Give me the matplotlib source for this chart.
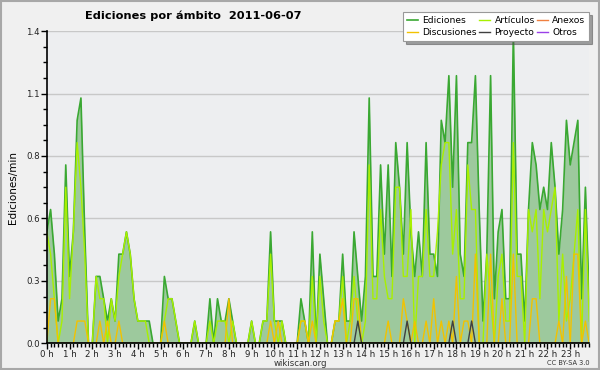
import numpy as np
import matplotlib
matplotlib.use("Agg")
import matplotlib.pyplot as plt
from matplotlib.ticker import FixedLocator, MultipleLocator

# ======== Data (edits/min, 10-minute bins, 2011-06-07) ========

ediciones = [
    0.5, 0.6, 0.4, 0.1, 0.2, 0.8, 0.3, 0.5, 1.0, 1.1, 0.5, 0.0,
    0.0, 0.3, 0.3, 0.2, 0.1, 0.2, 0.1, 0.4, 0.4, 0.5, 0.4, 0.2,
    0.1, 0.1, 0.1, 0.1, 0.0, 0.0, 0.0, 0.3, 0.2, 0.2, 0.1, 0.0,
    0.0, 0.0, 0.0, 0.1, 0.0, 0.0, 0.0, 0.2, 0.0, 0.2, 0.1, 0.1,
    0.2, 0.1, 0.0, 0.0, 0.0, 0.0, 0.1, 0.0, 0.0, 0.1, 0.1, 0.5,
    0.1, 0.1, 0.1, 0.0, 0.0, 0.0, 0.0, 0.2, 0.1, 0.0, 0.5, 0.0,
    0.4, 0.2, 0.0, 0.0, 0.1, 0.1, 0.4, 0.1, 0.1, 0.5, 0.3, 0.1,
    0.3, 1.1, 0.3, 0.3, 0.8, 0.4, 0.8, 0.3, 0.9, 0.7, 0.4, 0.9,
    0.5, 0.3, 0.5, 0.3, 0.9, 0.4, 0.4, 0.3, 1.0, 0.9, 1.2, 0.7,
    1.2, 0.4, 0.3, 0.9, 0.9, 1.2, 0.6, 0.1, 0.4, 1.2, 0.2, 0.5,
    0.6, 0.2, 0.2, 1.4, 0.4, 0.4, 0.1, 0.6, 0.9, 0.8, 0.6, 0.7,
    0.6, 0.9, 0.7, 0.4, 0.6, 1.0, 0.8, 0.9, 1.0, 0.2, 0.7, 0.2,
]

articulos = [
    0.5, 0.4, 0.2, 0.0, 0.1, 0.7, 0.2, 0.5, 0.9, 0.7, 0.4, 0.0,
    0.0, 0.3, 0.2, 0.2, 0.0, 0.2, 0.1, 0.3, 0.4, 0.5, 0.4, 0.2,
    0.1, 0.1, 0.1, 0.0, 0.0, 0.0, 0.0, 0.1, 0.2, 0.2, 0.1, 0.0,
    0.0, 0.0, 0.0, 0.1, 0.0, 0.0, 0.0, 0.1, 0.0, 0.1, 0.1, 0.1,
    0.0, 0.1, 0.0, 0.0, 0.0, 0.0, 0.1, 0.0, 0.0, 0.1, 0.1, 0.4,
    0.1, 0.0, 0.1, 0.0, 0.0, 0.0, 0.0, 0.1, 0.1, 0.0, 0.3, 0.0,
    0.3, 0.1, 0.0, 0.0, 0.1, 0.1, 0.3, 0.0, 0.1, 0.3, 0.1, 0.0,
    0.1, 0.8, 0.2, 0.2, 0.6, 0.3, 0.2, 0.2, 0.7, 0.7, 0.3, 0.3,
    0.6, 0.0, 0.3, 0.3, 0.6, 0.3, 0.3, 0.5, 0.8, 0.9, 0.9, 0.4,
    0.6, 0.2, 0.2, 0.8, 0.6, 0.6, 0.0, 0.0, 0.4, 0.2, 0.0, 0.3,
    0.4, 0.1, 0.1, 0.9, 0.3, 0.3, 0.0, 0.6, 0.5, 0.6, 0.2, 0.6,
    0.5, 0.6, 0.7, 0.1, 0.4, 0.1, 0.2, 0.4, 0.6, 0.0, 0.6, 0.1,
]

discusiones = [
    0.0, 0.2, 0.2, 0.0, 0.0, 0.0, 0.0, 0.0, 0.1, 0.1, 0.1, 0.0,
    0.0, 0.0, 0.1, 0.0, 0.1, 0.0, 0.0, 0.1, 0.0, 0.0, 0.0, 0.0,
    0.0, 0.0, 0.0, 0.0, 0.0, 0.0, 0.0, 0.1, 0.0, 0.0, 0.0, 0.0,
    0.0, 0.0, 0.0, 0.0, 0.0, 0.0, 0.0, 0.0, 0.0, 0.0, 0.0, 0.0,
    0.2, 0.0, 0.0, 0.0, 0.0, 0.0, 0.0, 0.0, 0.0, 0.0, 0.0, 0.1,
    0.0, 0.1, 0.0, 0.0, 0.0, 0.0, 0.0, 0.1, 0.1, 0.0, 0.1, 0.0,
    0.0, 0.0, 0.0, 0.0, 0.1, 0.1, 0.2, 0.0, 0.0, 0.2, 0.2, 0.0,
    0.0, 0.0, 0.0, 0.0, 0.0, 0.0, 0.1, 0.0, 0.0, 0.0, 0.2, 0.1,
    0.0, 0.1, 0.0, 0.0, 0.1, 0.0, 0.2, 0.0, 0.1, 0.0, 0.1, 0.0,
    0.3, 0.0, 0.1, 0.1, 0.0, 0.4, 0.0, 0.0, 0.0, 0.4, 0.0, 0.0,
    0.2, 0.0, 0.0, 0.4, 0.0, 0.0, 0.0, 0.0, 0.2, 0.2, 0.0, 0.0,
    0.0, 0.0, 0.0, 0.1, 0.0, 0.3, 0.0, 0.4, 0.4, 0.0, 0.1, 0.0,
]

proyecto = [0.0] * 144
for k in (82, 95, 107, 112):
    proyecto[k] = 0.1

anexos = [0.0] * 144
otros = [0.0] * 144

hour_labels = [f"{h} h" for h in range(24)]

# ======== Plot ========

fig = plt.figure(figsize=(6.0, 3.7), dpi=100, facecolor="#F0F0F0")
fig.patches.append(plt.Rectangle((0.002, 0.003), 0.996, 0.994, transform=fig.transFigure,
                                 fill=False, edgecolor="#A8A8A8", linewidth=1.5))
ax = fig.add_axes([0.078, 0.072, 0.904, 0.844])
ax.set_facecolor("#EDEEF0")

x = np.arange(len(ediciones)) / 6.0

ax.fill_between(x, 0, ediciones, color="#9DC99D", zorder=2, linewidth=0)
ax.plot(x, otros, color="#9A40E8", linewidth=1.0, zorder=2.5)
ax.plot(x, anexos, color="#F08040", linewidth=1.0, zorder=2.5)
ax.plot(x, ediciones, color="#3AA832", linewidth=1.2, zorder=4, label="Ediciones")
ax.plot(x, articulos, color="#A8F000", linewidth=1.0, zorder=5, label="Artículos")
ax.plot(x, discusiones, color="#F2C200", linewidth=1.0, zorder=6, label="Discusiones")
ax.plot(x, proyecto, color="#404040", linewidth=1.0, zorder=6, label="Proyecto")

ax.set_xlim(0, x[-1])
ax.set_ylim(0, 1.4)

yt = np.linspace(0, 1.4, 6)
ax.yaxis.set_major_locator(FixedLocator(yt))
ax.set_yticklabels([f"{v:.1f}" for v in yt])
ax.yaxis.set_minor_locator(MultipleLocator(0.07))
ax.xaxis.set_major_locator(FixedLocator(range(24)))
ax.set_xticklabels(hour_labels)
ax.xaxis.set_minor_locator(MultipleLocator(1 / 6))

ax.tick_params(axis="both", which="major", labelsize=6.2, length=4, width=1, color="black",
               labelcolor="#222222", pad=1)
ax.tick_params(axis="both", which="minor", length=3, width=1, color="black")
ax.grid(True, axis="y", which="major", color="#C8C8C8", linewidth=1.0, zorder=1)
ax.set_axisbelow(True)

for side in ("top", "right"):
    ax.spines[side].set_visible(False)
for side in ("left", "bottom"):
    ax.spines[side].set_linewidth(1.2)
    ax.spines[side].set_zorder(8)

ax.set_ylabel("Ediciones/min", fontsize=7.5, labelpad=6)

fig.text(0.142, 0.958, "Ediciones por ámbito  2011-06-07", fontsize=8.2, fontweight="bold",
         ha="left", va="center")
fig.text(0.5, 0.018, "wikiscan.org", fontsize=6.2, ha="center", va="center", color="#333333")
fig.text(0.983, 0.018, "CC BY-SA 3.0", fontsize=4.8, ha="right", va="center", color="#333333")

# legend: Ediciones/Discusiones, Artículos/Proyecto, Anexos/Otros
by_label = {h.get_label(): h for h in ax.get_lines()}
h_anexos = plt.Line2D([], [], color="#F08040", linewidth=1.0)
h_otros = plt.Line2D([], [], color="#9A40E8", linewidth=1.0)
leg = fig.legend(
    [by_label["Ediciones"], by_label["Discusiones"], by_label["Artículos"], by_label["Proyecto"],
     h_anexos, h_otros],
    ["Ediciones", "Discusiones", "Artículos", "Proyecto", "Anexos", "Otros"],
    ncol=3, loc="upper right", bbox_to_anchor=(0.99, 0.98), fontsize=6.6,
    handlelength=1.2, handletextpad=0.5, columnspacing=0.2, labelspacing=0.3,
    borderpad=0.45, fancybox=False, shadow=True, framealpha=1,
)
leg.get_frame().set_edgecolor("#999999")
leg.get_frame().set_linewidth(0.8)

fig.savefig("out.png", dpi=100, facecolor=fig.get_facecolor())
